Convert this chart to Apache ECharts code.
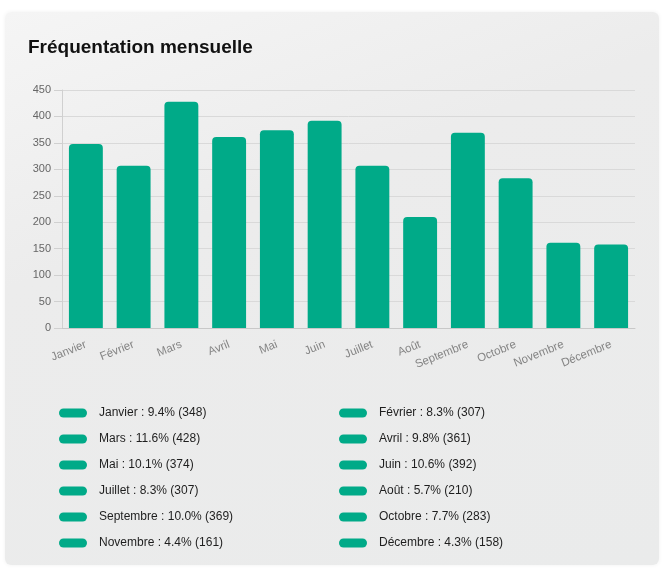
<!DOCTYPE html>
<html>
<head>
<meta charset="utf-8">
<script src="https://cdn.jsdelivr.net/npm/echarts@6/dist/echarts.min.js"></script>
<style>
html,body{margin:0;padding:0;background:#fff;width:665px;height:569px;overflow:hidden;}
#card{position:absolute;left:5px;top:12px;width:654px;height:553px;border-radius:6px;
background:linear-gradient(160deg,#f5f5f5 0%,#ececec 35%,#eaebeb 100%);box-shadow:0 0 4px rgba(0,0,0,0.06);}
#chart{position:absolute;left:0;top:0;width:665px;height:569px;}
</style>
</head>
<body>
<div id="card"></div>
<div id="chart"></div>
<script>
const categories = ['Janvier','Février','Mars','Avril','Mai','Juin','Juillet','Août','Septembre','Octobre','Novembre','Décembre'];
const values = [348, 307, 428, 361, 374, 392, 307, 210, 369, 283, 161, 158];
const yTicks = [0, 50, 100, 150, 200, 250, 300, 350, 400, 450];

const total = values.reduce((a, b) => a + b, 0);
const color = '#00AA88';
const font = '"Liberation Sans", Arial, sans-serif';

const series = categories.map((name, i) => ({
  name: name,
  type: 'bar',
  stack: 'all',
  barWidth: '71%',
  data: values.map((v, j) => (j === i ? v : '-')),
  itemStyle: { color: color, borderRadius: [4, 4, 0, 0] }
}));

function legendFor(names, left) {
  return {
    orient: 'vertical',
    left: left,
    top: 405,
    padding: 0,
    data: names,
    icon: 'path://M4.5,0 H23.5 A4.5,4.5 0 0 1 23.5,9 H4.5 A4.5,4.5 0 0 1 4.5,0 Z',
    itemWidth: 28,
    itemHeight: 9,
    itemGap: 10,
    selectedMode: false,
    textStyle: { fontFamily: font, fontSize: 12, color: '#1e1e1e', lineHeight: 16, padding: [0, 0, 0, 7] },
    formatter: function (name) {
      const v = values[categories.indexOf(name)];
      return name + ' : ' + (v / total * 100).toFixed(1) + '% (' + v + ')';
    }
  };
}

const chart = echarts.init(document.getElementById('chart'), null, { renderer: 'canvas' });
chart.setOption({
  animation: false,
  backgroundColor: 'transparent',
  title: {
    text: 'Fréquentation mensuelle',
    left: 23,
    top: 33,
    textStyle: { fontFamily: font, fontSize: 19, fontWeight: 'bold', color: '#111' }
  },
  legend: [
    legendFor(categories.filter((c, i) => i % 2 === 0), 59),
    legendFor(categories.filter((c, i) => i % 2 === 1), 339)
  ],
  grid: { left: 62, right: 30, top: 90, bottom: 241 },
  xAxis: {
    type: 'category',
    data: categories,
    axisLine: { lineStyle: { color: '#c8c8c8' } },
    axisTick: { show: false },
    axisLabel: { rotate: 22, fontFamily: font, fontSize: 11.5, color: '#858585', margin: 16, interval: 0 }
  },
  yAxis: {
    type: 'value',
    min: yTicks[0],
    max: yTicks[yTicks.length - 1],
    interval: 50,
    axisLine: { show: true, lineStyle: { color: '#d0d0d0' } },
    axisTick: { show: true, length: 8, lineStyle: { color: '#d0d0d0' } },
    splitLine: { lineStyle: { color: '#d9d9d9' } },
    axisLabel: { fontFamily: font, fontSize: 11, color: '#666', margin: 11 }
  },
  series: series
});
</script>
</body>
</html>
